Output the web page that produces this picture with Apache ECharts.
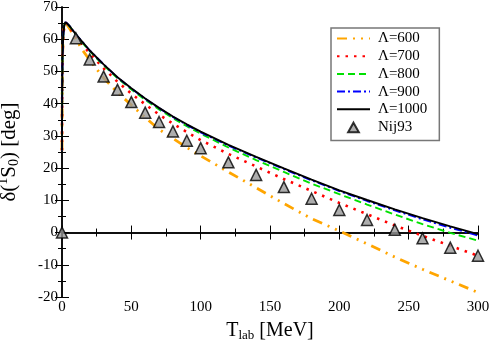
<!DOCTYPE html>
<html>
<head>
<meta charset="utf-8">
<script src="https://cdn.jsdelivr.net/npm/echarts@6/dist/echarts.min.js"></script>
<style>
  html, body { margin: 0; padding: 0; background: #fff; }
  #chart { width: 491px; height: 341px; }
</style>
</head>
<body>
<div id="chart"></div>
<script>
// T_lab grid (MeV) shared by the calculated curves
const tlab = [0, 0.05, 0.15, 0.4, 0.9, 1.6, 2.5, 4, 6, 10, 15, 20, 30, 40, 50, 60, 70, 80, 90, 100,
  120, 140, 160, 180, 200, 220, 240, 260, 280, 300];

const lam600 = [25.5, 35, 45, 55, 61, 64.1, 64.9, 64.3, 62.9, 60.0, 56.5, 53.5, 48.0, 43.5, 39.6, 35.7, 32.0, 29.2, 26.4, 23.8,
  18.8, 13.9, 9.0, 4.3, 0.5, -3.5, -7.6, -11.4, -15.0, -18.6];
const lam700 = [25.5, 35, 45, 55, 61, 64.2, 65.1, 64.5, 63.3, 61.0, 58.2, 55.6, 51.0, 46.8, 43.1, 39.8, 36.6, 33.8, 31.2, 28.7,
  24.4, 20.5, 16.6, 12.9, 9.2, 5.7, 2.2, -1.0, -4.1, -7.2];
const lam800 = [25.5, 35, 45, 55, 61, 64.3, 65.3, 64.8, 63.7, 61.4, 58.8, 56.3, 51.9, 47.9, 44.4, 41.2, 38.2, 35.5, 33.0, 30.7,
  26.4, 22.5, 18.8, 15.2, 11.9, 8.7, 5.6, 2.6, -0.1, -2.5];
const lam900 = [25.5, 35, 45, 55, 61, 64.3, 65.3, 64.8, 63.8, 61.5, 59.0, 56.5, 52.2, 48.1, 44.7, 41.5, 38.6, 35.9, 33.4, 31.1,
  27.0, 23.3, 19.7, 16.2, 12.9, 9.8, 6.9, 4.1, 1.5, -0.9];
const lam1000 = [25.5, 35, 45, 55, 61, 64.3, 65.3, 64.8, 63.8, 61.5, 59.0, 56.5, 52.2, 48.2, 44.8, 41.6, 38.7, 36.0, 33.6, 31.3,
  27.2, 23.5, 19.9, 16.4, 13.1, 10.1, 7.2, 4.5, 1.9, -0.5];

// Nijmegen PWA93
const nijT = [0, 10, 20, 30, 40, 50, 60, 70, 80, 90, 100, 120, 140, 160, 180, 200, 220, 240, 260, 280, 300];
const nijD = [0, 60.3, 53.7, 48.4, 44.3, 40.5, 37.2, 34.3, 31.4, 28.5, 26.2, 21.8, 17.9, 14.1, 10.5, 7.0, 3.9, 0.9, -1.8, -4.7, -7.2];

const xTicks = { min: 0, max: 300, interval: 50 };
const yTicks = { min: -20, max: 70, interval: 10 };

const FONT = 'Liberation Serif';

function pairs(xs, ys) {
  return xs.map((x, i) => [x, ys[i]]);
}

function curve(name, values, color, width, dash) {
  return {
    name: name,
    type: 'line',
    data: pairs(tlab, values),
    showSymbol: false,
    symbol: 'none',
    lineStyle: { color: color, width: width, type: dash, cap: 'butt' },
    itemStyle: { color: color },
    z: 2
  };
}

const chart = echarts.init(document.getElementById('chart'));

const axisCommon = {
  type: 'value',
  axisLine: { show: true, lineStyle: { color: '#000', width: 1.5 } },
  axisTick: { show: true, inside: true, length: 7, lineStyle: { color: '#000', width: 1 } },
  minorTick: { show: true, splitNumber: 2, length: 4, lineStyle: { color: '#000', width: 1 } },
  splitLine: { show: false },
  minorSplitLine: { show: false }
};

const legendNames = ['Λ=600', 'Λ=700', 'Λ=800', 'Λ=900', 'Λ=1000'];
// small triangle with empty margin so the legend marker stays ~10px
const triIcon = 'path://M7,2 L12,11 L2,11 Z M0,0 L0,0 M14,13 L14,13';

const option = {
  backgroundColor: '#fff',
  animation: false,
  grid: { left: 62, right: 13, top: 7, bottom: 44, outerBoundsMode: 'none', containLabel: false },
  legend: {
    orient: 'vertical',
    left: 331,
    top: 28,
    padding: [3, 12, 5, 5],
    itemGap: 2.7,
    itemWidth: 33,
    itemHeight: 14,
    symbolKeepAspect: true,
    borderColor: '#777',
    borderWidth: 1.5,
    backgroundColor: '#fff',
    textStyle: { fontFamily: FONT, fontSize: 15, color: '#000', padding: [0, 0, 0, 3], lineHeight: 14 },
    data: legendNames.map(n => ({ name: n, itemStyle: { opacity: 0 } }))
      .concat([{ name: 'Nij93', icon: triIcon }])
  },
  xAxis: [
    Object.assign({}, axisCommon, {
      min: xTicks.min, max: xTicks.max, interval: xTicks.interval,
      position: 'bottom',
      name: 'T{sub|lab} [MeV]',
      nameLocation: 'middle',
      nameGap: 22,
      nameTextStyle: {
        fontFamily: FONT, fontSize: 20, color: '#000',
        rich: { sub: { fontFamily: FONT, fontSize: 13, padding: [10, 0, 0, 0] } }
      },
      axisLabel: { fontFamily: FONT, fontSize: 15, color: '#000', margin: 3 }
    }),
    Object.assign({}, axisCommon, {
      min: xTicks.min, max: xTicks.max, interval: xTicks.interval,
      position: 'top',
      axisLabel: { show: false }
    })
  ],
  yAxis: [
    Object.assign({}, axisCommon, {
      min: yTicks.min, max: yTicks.max, interval: yTicks.interval,
      position: 'left',
      name: 'δ({sup|1}S{sub|0}) [deg]',
      nameLocation: 'middle',
      nameGap: 40,
      nameRotate: 90,
      nameTextStyle: {
        fontFamily: FONT, fontSize: 21, color: '#000',
        rich: {
          sup: { fontFamily: FONT, fontSize: 14, padding: [0, 0, 12, 0] },
          sub: { fontFamily: FONT, fontSize: 14, padding: [10, 0, 0, 0] }
        }
      },
      axisLabel: { fontFamily: FONT, fontSize: 15, color: '#000', margin: 4 }
    }),
    Object.assign({}, axisCommon, {
      min: yTicks.min, max: yTicks.max, interval: yTicks.interval,
      position: 'right',
      axisLabel: { show: false }
    })
  ],
  series: [
    curve('Λ=600', lam600, '#ffa500', 2.8, [10, 6, 2, 6, 2, 6]),
    curve('Λ=700', lam700, '#ff0000', 2.6, [2.5, 6]),
    curve('Λ=800', lam800, '#00e000', 1.9, [7, 4]),
    curve('Λ=900', lam900, '#0000ff', 1.9, [8, 3, 2, 3]),
    curve('Λ=1000', lam1000, '#000000', 1.9, 'solid'),
    {
      name: 'Nij93',
      type: 'scatter',
      data: pairs(nijT, nijD),
      symbol: 'triangle',
      symbolSize: 11,
      clip: false,
      itemStyle: { color: '#999', borderColor: '#000', borderWidth: 1.5 },
      z: 5
    }
  ]
};

chart.setOption(option);
</script>
</body>
</html>
